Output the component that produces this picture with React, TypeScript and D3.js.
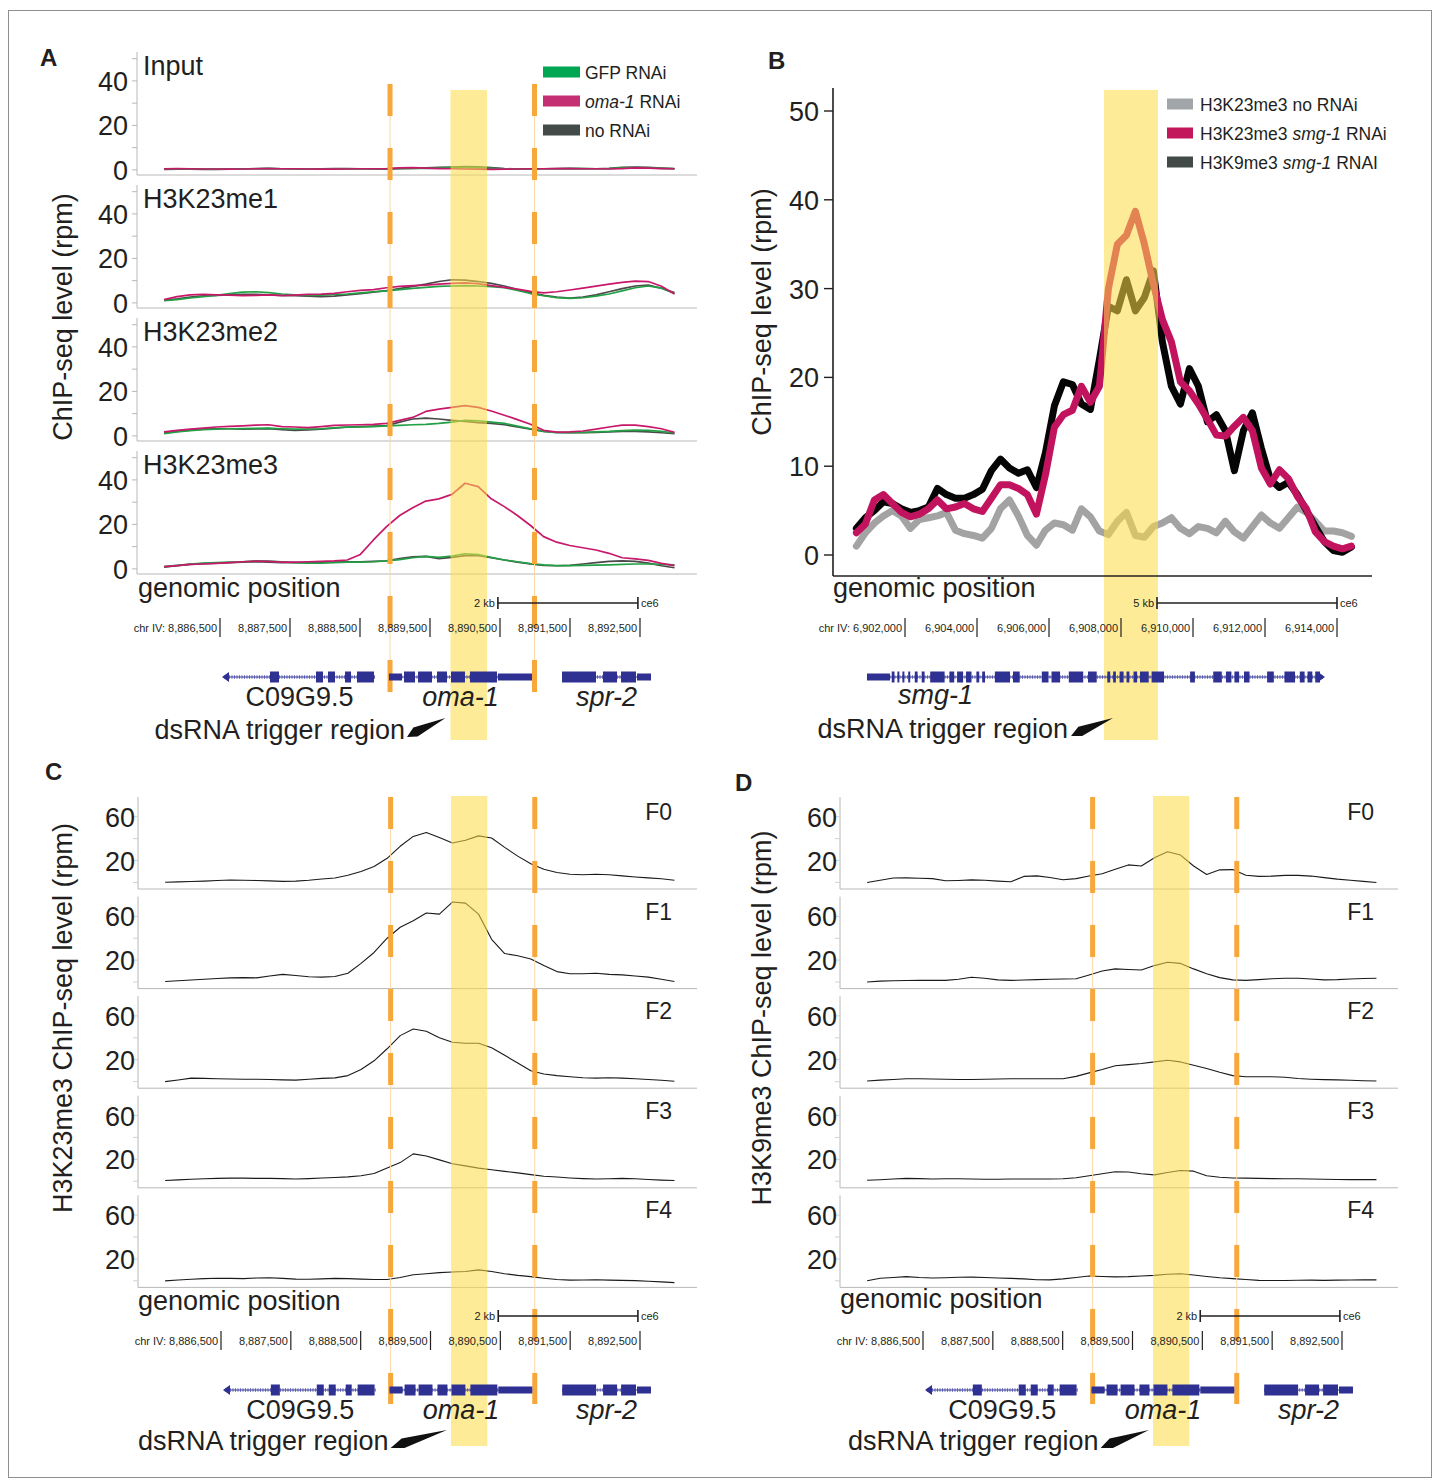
import { useEffect, useRef } from "react";
import * as d3 from "d3";

const FONT = "'Liberation Sans', Arial, Helvetica, sans-serif";
const INK = "#231f20";
const ORANGE = "#f8a73b";
const BAND = "#fbdc48";
const GENE = "#2e3192";
const AXIS_GRAY = "#b8b8b8";

// genomic grids of the coverage tracks
const omaStart = 8885700;
const omaStep = 187;
const smgStart = 6900650;
const smgStep = 250;

const omaTicks = [8886500, 8887500, 8888500, 8889500, 8890500, 8891500, 8892500];
const smgTicks = [6902000, 6904000, 6906000, 6908000, 6910000, 6912000, 6914000];
const omaDashes = [8888929, 8890993];
const omaTrigger = [8889793, 8890314];
const smgTrigger = [6907528, 6909028];

// gene models
const c09Span = [8886557, 8888714];
const c09Exons = [[8887214, 8887357], [8887871, 8887986], [8888043, 8888157], [8888286, 8888386], [8888457, 8888714]];
const omaSpan = [8888914, 8890957];
const omaExons = [[8889129, 8889300], [8889329, 8889543], [8889600, 8889757], [8889800, 8890014], [8890071, 8890471]];
const omaUtrs = [[8888914, 8889100], [8890471, 8890957]];
const sprSpan = [8891386, 8892657];
const sprExons = [[8891386, 8891886], [8891971, 8892186], [8892229, 8892457]];
const sprUtrs = [[8892457, 8892657]];
const smgSpan = [6900944, 6913611];
const smgUtrs = [[6900944, 6901583]];
const smgExons = [
  [6901631, 6901736], [6901789, 6901864], [6901928, 6902003], [6902089, 6902164], [6902272, 6902378],
  [6902464, 6902572], [6902700, 6903128], [6903233, 6903395], [6903447, 6903642], [6903695, 6903875],
  [6903983, 6904089], [6904145, 6904250], [6904497, 6904945], [6905000, 6905214], [6905800, 6906014],
  [6906070, 6906336], [6906550, 6906978], [6907084, 6907353], [6907620, 6907728], [6907781, 6907886],
  [6907961, 6908100], [6908153, 6908261], [6908347, 6908475], [6908528, 6908798], [6908850, 6909222],
  [6909920, 6910081], [6910562, 6910828], [6910915, 6911095], [6911151, 6911309], [6911417, 6911598],
  [6912059, 6912273], [6912540, 6912862], [6912967, 6913128], [6913181, 6913342], [6913395, 6913556],
];

// A: H3K23 methylation rows (rpm)
const aRows = ["Input", "H3K23me1", "H3K23me2", "H3K23me3"];
const aTicks = [0, 10, 20, 30, 40, 50];
const aLabels = [0, 20, 40];
const inputNo = [0.2,0.3,0.3,0.2,0.2,0.3,0.4,0.6,0.7,0.5,0.4,0.4,0.5,0.6,0.6,0.5,0.4,0.3,0.5,0.7,0.9,1.1,1.3,1.5,1.4,1.0,0.6,0.4,0.4,0.5,0.6,0.7,0.6,0.5,0.7,1.1,1.3,1.1,0.8,0.6];
const inputGfp = [0.5,0.5,0.4,0.4,0.3,0.4,0.5,0.5,0.6,0.5,0.4,0.4,0.4,0.5,0.5,0.4,0.4,0.5,0.7,0.8,0.7,0.8,1.0,1.1,1.0,0.7,0.5,0.4,0.4,0.5,0.5,0.6,0.6,0.5,0.6,0.9,1.0,0.9,0.7,0.5];
const inputOma = [0.5,0.6,0.5,0.4,0.4,0.3,0.4,0.5,0.6,0.5,0.5,0.4,0.3,0.3,0.4,0.5,0.5,0.6,0.9,1.0,0.8,0.6,0.5,0.4,0.3,0.2,0.3,0.4,0.5,0.5,0.6,0.6,0.5,0.5,0.4,0.6,0.9,0.8,0.6,0.5];
const me1No = [1.2,1.8,2.6,3.2,3.4,3.6,3.8,3.8,3.6,3.4,3.2,3.0,2.8,3.0,3.6,4.2,4.8,5.5,6.4,7.4,8.4,9.6,10.4,10.2,9.6,8.8,7.6,6.0,4.6,3.4,2.6,2.2,2.6,3.6,5.0,6.4,7.6,8.0,6.6,4.6];
const me1Gfp = [1.0,1.5,2.2,2.8,3.4,4.2,4.8,5.0,4.6,4.0,3.6,3.4,3.5,3.8,4.0,4.5,5.0,5.4,6.0,6.5,7.0,7.4,7.6,7.8,7.6,7.3,6.8,5.6,4.2,3.2,2.4,2.0,2.3,3.0,4.0,5.4,6.8,7.6,6.6,4.2];
const me1Oma = [1.5,2.8,3.6,3.8,3.6,3.5,3.3,3.4,3.6,3.3,3.5,3.8,3.9,4.3,5.0,5.6,6.0,6.8,7.4,7.8,8.0,8.4,8.8,9.0,8.6,7.8,7.0,6.2,5.2,4.5,5.0,5.8,6.6,7.5,8.4,9.2,9.8,9.6,7.5,4.0];
const me2No = [1.2,2.0,2.6,3.0,3.2,3.2,3.0,3.1,3.3,2.8,2.5,2.7,3.0,3.5,4.0,4.2,4.4,4.6,6.2,7.6,8.0,7.6,7.0,6.5,6.0,5.6,5.0,4.0,3.0,2.0,1.6,1.5,1.5,1.6,1.8,2.0,2.0,1.8,1.4,1.0];
const me2Gfp = [1.0,1.8,2.4,2.8,3.0,3.2,3.3,3.4,3.5,3.2,3.0,3.0,3.2,3.6,3.9,4.0,4.2,4.5,4.7,5.0,5.2,5.6,6.2,7.0,6.8,6.2,5.6,4.4,3.2,2.0,1.5,1.5,1.6,1.8,2.0,2.4,2.6,2.5,2.0,1.3];
const me2Oma = [1.8,2.5,3.0,3.5,4.0,4.3,4.5,4.8,5.0,4.2,4.0,3.7,4.2,4.7,4.9,5.0,5.2,5.6,7.0,8.3,11.0,12.0,12.8,13.6,12.8,11.2,9.3,7.3,5.2,2.5,1.7,1.8,2.2,3.0,4.0,4.8,4.8,4.2,3.2,1.6];
const me3No = [0.8,1.4,2.0,2.4,2.6,2.8,3.0,3.2,3.0,2.8,2.8,2.8,3.0,3.0,3.2,3.2,3.4,3.6,4.6,5.4,5.6,4.6,5.2,6.0,6.0,5.0,4.0,3.0,2.2,1.6,1.4,1.6,2.2,2.8,3.4,3.6,3.4,2.6,1.4,0.5];
const me3Gfp = [1.0,1.6,2.2,2.6,2.8,3.0,3.2,3.6,3.5,3.2,2.8,2.6,2.6,2.8,3.0,3.0,3.2,3.6,4.2,5.0,5.6,5.2,5.8,6.8,6.4,5.2,4.0,3.2,2.4,1.8,1.5,1.5,1.6,1.7,1.8,2.0,2.2,2.2,2.0,1.8];
const me3Oma = [1.0,1.5,2.0,2.2,2.5,2.8,3.2,3.5,3.4,3.0,3.0,3.2,3.4,3.6,4.0,6.5,13.0,19.0,24.0,27.5,30.5,31.5,33.5,38.5,37.0,31.5,28.0,24.0,19.5,14.5,12.0,10.5,9.5,8.5,7.0,5.0,4.5,3.8,2.5,1.5];

// B: smg-1 locus (rpm)
const bTicks = [0, 10, 20, 30, 40, 50];
const bNo = [1.0,2.5,3.6,4.4,5.0,4.4,3.0,4.0,4.2,4.4,4.8,2.8,2.4,2.2,1.9,3.0,5.2,6.2,4.4,2.2,1.1,2.8,3.6,3.4,2.8,5.2,4.3,2.7,2.3,3.8,4.8,2.2,2.0,3.2,3.6,4.2,3.0,2.4,3.2,3.0,2.5,3.8,2.6,1.9,3.2,4.5,3.6,3.0,4.2,5.4,4.8,3.8,2.7,2.7,2.5,2.1];
const bK9 = [3.0,4.2,5.0,6.0,5.8,5.2,4.8,5.0,5.4,7.5,6.8,6.4,6.4,6.8,7.4,9.5,10.8,9.8,9.2,9.6,7.6,11.5,16.8,19.5,19.2,17.0,16.4,22.0,28.0,27.5,31.0,27.5,29.0,32.0,24.0,19.0,17.0,21.0,19.0,15.0,15.8,14.0,9.5,14.0,16.0,12.0,8.5,7.6,8.2,6.8,5.0,3.2,1.5,0.5,0.3,0.9];
const bSmg = [2.5,3.5,6.2,6.8,5.8,4.8,4.3,4.6,5.2,6.2,5.2,5.4,5.8,5.2,4.9,6.4,7.9,7.9,7.5,6.8,4.6,9.0,14.4,15.8,16.3,19.0,17.2,19.0,30.0,35.0,36.0,38.7,35.0,30.5,26.5,24.0,19.5,18.5,17.0,15.3,13.5,13.4,14.5,15.5,14.0,9.8,8.0,9.6,8.6,6.6,5.2,2.6,1.5,1.0,0.7,1.0];

// C, D: generations F0-F4 (rpm)
const gens = ["F0", "F1", "F2", "F3", "F4"];
const genTicks = [0, 20, 40, 60];
const genLabels = [20, 60];
const cF0 = [0.2,0.5,0.8,1.2,1.8,2.2,2.0,1.8,1.4,1.0,1.2,2.0,3.2,4.0,6.5,10.0,14.5,22.0,33.0,42.0,45.5,41.0,36.0,38.5,42.5,40.5,32.0,24.0,17.0,12.0,9.0,7.5,7.0,7.5,7.0,6.0,5.0,4.2,3.4,2.0];
const cF1 = [0.5,1.2,1.8,2.5,3.2,3.8,4.0,3.8,5.5,7.0,6.0,4.8,4.5,5.0,8.0,17.0,27.0,40.0,50.0,56.0,63.0,62.0,73.0,72.0,62.0,39.0,26.0,24.0,21.0,15.0,9.5,7.5,7.5,8.0,7.0,6.5,5.5,4.5,2.5,0.5];
const cF2 = [0.0,1.5,3.2,3.0,2.6,2.4,2.2,2.2,2.0,1.6,1.4,2.2,3.0,3.4,5.5,11.0,19.0,30.0,42.0,48.0,46.0,40.0,36.0,35.0,35.0,31.0,24.0,17.0,10.0,7.0,5.5,4.5,3.5,3.2,3.6,3.2,2.6,2.0,1.2,0.4];
const cF3 = [0.7,1.2,1.8,2.2,2.6,2.8,2.8,2.6,2.6,2.4,2.0,2.4,3.0,3.4,4.0,5.0,7.0,12.0,17.0,25.0,23.0,19.5,16.0,14.0,12.0,10.5,9.0,7.6,6.0,4.6,3.8,3.0,2.4,2.0,2.2,2.6,2.2,1.6,1.0,0.6];
const cF4 = [0.0,0.8,1.4,2.0,2.4,2.2,2.0,2.6,2.8,2.2,1.6,1.4,1.8,2.2,2.0,1.6,1.2,1.2,3.0,5.5,6.5,7.5,8.0,8.5,10.0,8.5,6.5,5.0,3.8,2.4,1.2,0.6,0.8,1.0,0.6,0.4,0.2,-0.4,-1.0,-1.6];
const dF0 = [0.0,2.0,4.0,4.2,3.8,3.5,1.5,1.8,2.3,2.0,1.2,0.6,5.5,6.0,4.5,2.5,3.5,5.8,8.0,12.0,16.0,15.0,22.5,28.0,25.0,15.0,7.3,11.5,11.7,6.5,5.5,5.8,6.4,6.4,5.8,4.4,3.0,2.0,1.0,0.0];
const dF1 = [0.0,0.8,1.2,1.4,1.5,1.5,1.5,2.5,4.4,3.5,2.0,1.5,1.8,2.2,2.5,2.8,3.0,6.5,10.0,12.0,11.5,11.0,15.0,18.0,17.0,12.0,7.5,4.0,2.0,1.5,2.2,3.0,3.5,3.4,2.8,2.0,2.2,2.8,3.2,3.5];
const dF2 = [0.6,1.4,2.0,2.6,2.6,2.4,2.2,2.0,2.0,2.2,2.4,2.6,2.6,2.6,2.6,2.6,4.8,8.0,11.0,14.5,15.5,16.5,18.0,19.5,18.0,15.0,12.0,8.5,5.5,4.4,4.4,4.4,4.0,2.8,2.2,1.8,1.6,1.2,0.8,0.6];
const dF3 = [0.9,1.4,2.0,2.6,2.4,2.0,2.2,2.2,2.0,1.8,1.8,2.0,2.0,2.0,2.0,2.2,3.2,5.0,6.8,8.6,8.4,6.8,5.8,8.0,9.8,9.2,5.0,3.6,3.0,2.8,2.6,2.4,2.2,2.2,2.0,1.8,1.6,1.5,1.5,1.5];
const dF4 = [0.0,2.3,3.0,3.8,3.0,2.6,2.8,3.2,3.4,3.0,2.6,2.2,1.8,1.0,0.9,1.8,3.0,4.4,4.0,3.6,3.8,4.4,5.0,6.0,6.5,5.3,4.0,2.8,2.0,1.2,0.4,0.3,0.3,0.5,0.6,0.4,0.6,0.8,0.9,0.9];

function txt(g: any, x: number, y: number, s: string, size: number, o: any = {}) {
  return g.append("text")
    .attr("x", x).attr("y", y)
    .attr("font-family", FONT).attr("font-size", size)
    .attr("fill", o.fill || INK)
    .attr("text-anchor", o.anchor || "start")
    .attr("font-weight", o.bold ? "bold" : null)
    .attr("font-style", o.italic ? "italic" : null)
    .text(s);
}

function vlabel(g: any, x: number, y: number, s: string) {
  g.append("text")
    .attr("transform", `translate(${x},${y}) rotate(-90)`)
    .attr("font-family", FONT).attr("font-size", 27).attr("fill", INK)
    .attr("text-anchor", "middle").attr("dominant-baseline", "central")
    .text(s);
}

function dashes(g: any, x: any, pos: number[], y0: number, y1: number) {
  pos.forEach((p) => {
    g.append("line").attr("x1", x(p)).attr("x2", x(p)).attr("y1", y0).attr("y2", y1)
      .attr("stroke", "#fcd8a6").attr("stroke-width", 1);
    g.append("line").attr("x1", x(p)).attr("x2", x(p)).attr("y1", y0).attr("y2", y1)
      .attr("stroke", ORANGE).attr("stroke-width", 5).attr("stroke-dasharray", "32 32");
  });
}

function band(g: any, x: any, span: number[], y0: number, y1: number) {
  g.append("rect").attr("x", x(span[0])).attr("width", x(span[1]) - x(span[0]))
    .attr("y", y0).attr("height", y1 - y0)
    .attr("fill", BAND).attr("fill-opacity", 0.56);
}

function genomeAxis(g: any, x: any, ticks: number[], yLab: number, barStart: number, barLen: number, barText: string) {
  const fmt = d3.format(",");
  ticks.forEach((t, i) => {
    g.append("line").attr("x1", x(t)).attr("x2", x(t)).attr("y1", yLab - 14).attr("y2", yLab + 5)
      .attr("stroke", INK).attr("stroke-width", 1.2);
    txt(g, x(t) - 3, yLab, (i === 0 ? "chr IV: " : "") + fmt(t), 11, { anchor: "end" });
  });
  const yb = yLab - 29;
  const b0 = x(barStart), b1 = x(barStart + barLen);
  g.append("line").attr("x1", b0).attr("x2", b1).attr("y1", yb).attr("y2", yb).attr("stroke", INK).attr("stroke-width", 1.6);
  [b0, b1].forEach((bx) => g.append("line").attr("x1", bx).attr("x2", bx).attr("y1", yb - 6).attr("y2", yb + 6).attr("stroke", INK).attr("stroke-width", 1.6));
  txt(g, b0 - 3, yb + 4, barText, 11, { anchor: "end" });
  txt(g, b1 + 3, yb + 4, "ce6", 11);
}

// strand: -1 arrow at the start, 1 arrow at the end, 0 no arrow
function gene(g: any, x: any, yc: number, span: number[], exons: number[][], utrs: number[][], strand: number) {
  g.append("line").attr("x1", x(span[0])).attr("x2", x(span[1])).attr("y1", yc).attr("y2", yc)
    .attr("stroke", "#8588c8").attr("stroke-width", 4).attr("stroke-dasharray", "1 1.5");
  g.append("line").attr("x1", x(span[0])).attr("x2", x(span[1])).attr("y1", yc).attr("y2", yc)
    .attr("stroke", GENE).attr("stroke-width", 1.2);
  g.selectAll(null).data(utrs).join("rect")
    .attr("x", (d: number[]) => x(d[0])).attr("width", (d: number[]) => x(d[1]) - x(d[0]))
    .attr("y", yc - 3.5).attr("height", 7).attr("fill", GENE);
  g.selectAll(null).data(exons).join("rect")
    .attr("x", (d: number[]) => x(d[0])).attr("width", (d: number[]) => Math.max(2, x(d[1]) - x(d[0]) - 1))
    .attr("y", yc - 5.5).attr("height", 11).attr("fill", GENE);
  if (strand !== 0) {
    const ax = strand < 0 ? x(span[0]) : x(span[1]);
    const dir = strand < 0 ? -1 : 1;
    g.append("path").attr("d", `M${ax + dir * 2},${yc} L${ax - dir * 5},${yc - 5} L${ax - dir * 5},${yc + 5} Z`).attr("fill", GENE);
  }
}

function wedge(g: any, x0: number, y0: number, x1: number, y1: number) {
  const dx = x1 - x0, dy = y1 - y0, len = Math.hypot(dx, dy);
  const px = -dy / len * 5, py = dx / len * 5;
  g.append("path")
    .attr("d", `M${x0},${y0 + 1} L${x0 + dx * 0.22 + px},${y0 + dy * 0.22 + py} L${x1},${y1} L${x0 + dx * 0.22 - px},${y0 + dy * 0.22 - py} Z`)
    .attr("fill", "#111");
}

function legendItem(g: any, x: number, y: number, w: number, color: string, parts: [string, boolean][], tx: number) {
  g.append("rect").attr("x", x).attr("y", y - 5.5).attr("width", w).attr("height", 11).attr("fill", color);
  const t = txt(g, tx, y + 6.5, "", 17.5);
  parts.forEach(([s, it]) => t.append("tspan").attr("font-style", it ? "italic" : null).text(s));
}

function drawAll(svg: any) {
  const root = svg.append("g");
  root.append("rect").attr("x", 8.5).attr("y", 10.5).attr("width", 1423).attr("height", 1467)
    .attr("fill", "none").attr("stroke", "#8f8f8f").attr("stroke-width", 1);

  // ---------- Panel A ----------
  const xA = d3.scaleLinear().domain([8886500, 8892500]).range([220, 640]);
  const lineA = (y: any) => d3.line<number>().x((_, i) => xA(omaStart + i * omaStep)).y((d) => y(d));
  const aSeries = [
    [inputNo, inputGfp, inputOma],
    [me1No, me1Gfp, me1Oma],
    [me2No, me2Gfp, me2Oma],
    [me3No, me3Gfp, me3Oma],
  ];
  const aColors = ["#4a4a4a", "#22a045", "#c8186a"];
  const A = root.append("g");
  txt(A, 40, 66, "A", 24, { bold: true });
  vlabel(A, 63, 317, "ChIP-seq level (rpm)");
  aRows.forEach((name, r) => {
    const top = 52 + r * 133, bottom = top + 123;
    const y = d3.scaleLinear().domain([-2.3, 53]).range([bottom, top]);
    A.append("line").attr("x1", 137).attr("x2", 137).attr("y1", top).attr("y2", bottom).attr("stroke", AXIS_GRAY);
    A.append("line").attr("x1", 137).attr("x2", 697).attr("y1", bottom).attr("y2", bottom).attr("stroke", AXIS_GRAY);
    aTicks.forEach((t) => A.append("line").attr("x1", 132).attr("x2", 137).attr("y1", y(t)).attr("y2", y(t)).attr("stroke", AXIS_GRAY));
    aLabels.forEach((t) => txt(A, 128, y(t) + 10, String(t), 27, { anchor: "end" }));
    txt(A, 143, top + 23, name, 27);
    aSeries[r].forEach((s, k) => {
      A.append("path").datum(s).attr("d", lineA(y)).attr("fill", "none")
        .attr("stroke", aColors[k]).attr("stroke-width", 1.7).attr("stroke-linejoin", "round");
    });
  });
  band(A, xA, omaTrigger, 90, 740);
  dashes(A, xA, omaDashes, 84, 692);
  legendItem(A, 543, 72, 37, "#00a651", [["GFP RNAi", false]], 585);
  legendItem(A, 543, 101, 37, "#c42f73", [["oma-1", true], [" RNAi", false]], 585);
  legendItem(A, 543, 130, 37, "#434b49", [["no RNAi", false]], 585);
  txt(A, 138, 597, "genomic position", 27);
  genomeAxis(A, xA, omaTicks, 632, 8890470, 2000, "2 kb");
  gene(A, xA, 677, c09Span, c09Exons, [], -1);
  gene(A, xA, 677, omaSpan, omaExons, omaUtrs, 0);
  gene(A, xA, 677, sprSpan, sprExons, sprUtrs, 0);
  txt(A, xA((c09Span[0] + c09Span[1]) / 2), 706, "C09G9.5", 27, { anchor: "middle" });
  txt(A, xA((omaSpan[0] + omaSpan[1]) / 2), 706, "oma-1", 27, { anchor: "middle", italic: true });
  txt(A, xA((sprSpan[0] + sprSpan[1]) / 2), 706, "spr-2", 27, { anchor: "middle", italic: true });
  txt(A, 405, 739, "dsRNA trigger region", 27, { anchor: "end" });
  wedge(A, 407, 736, xA(omaTrigger[0]) - 5, 718);

  // ---------- Panel B ----------
  const xB = d3.scaleLinear().domain([6902000, 6914000]).range([905, 1337]);
  const yB = d3.scaleLinear().domain([0, 50]).range([555, 111]);
  const lineB = d3.line<number>().x((_, i) => xB(smgStart + i * smgStep)).y((d) => yB(d));
  const B = root.append("g");
  txt(B, 768, 69, "B", 24, { bold: true });
  vlabel(B, 762, 312, "ChIP-seq level (rpm)");
  [[bNo, "#a3a3a3"], [bK9, "#050505"], [bSmg, "#c2135f"]].forEach(([s, c]: any) => {
    B.append("path").datum(s).attr("d", lineB).attr("fill", "none").attr("stroke", c)
      .attr("stroke-width", 7).attr("stroke-linejoin", "round").attr("stroke-linecap", "round");
  });
  band(B, xB, smgTrigger, 90, 740);
  B.append("line").attr("x1", 833).attr("x2", 833).attr("y1", 88).attr("y2", 576).attr("stroke", INK).attr("stroke-width", 1.6);
  B.append("line").attr("x1", 833).attr("x2", 1372).attr("y1", 576).attr("y2", 576).attr("stroke", INK).attr("stroke-width", 1.6);
  bTicks.forEach((t) => {
    B.append("line").attr("x1", 824).attr("x2", 833).attr("y1", yB(t)).attr("y2", yB(t)).attr("stroke", INK).attr("stroke-width", 1.4);
    txt(B, 819, yB(t) + 10, String(t), 27, { anchor: "end" });
  });
  legendItem(B, 1167, 104, 26, "#a2a6aa", [["H3K23me3 no RNAi", false]], 1200);
  legendItem(B, 1167, 133, 26, "#c2185b", [["H3K23me3 ", false], ["smg-1", true], [" RNAi", false]], 1200);
  legendItem(B, 1167, 162, 26, "#424a48", [["H3K9me3 ", false], ["smg-1", true], [" RNAI", false]], 1200);
  txt(B, 833, 597, "genomic position", 27);
  genomeAxis(B, xB, smgTicks, 632, 6909000, 5000, "5 kb");
  gene(B, xB, 677, smgSpan, smgExons, smgUtrs, 1);
  txt(B, 898, 704, "smg-1", 27, { italic: true });
  txt(B, 1068, 738, "dsRNA trigger region", 27, { anchor: "end" });
  wedge(B, 1071, 735, xB(smgTrigger[0]) + 9, 718);

  // ---------- Panels C and D ----------
  const stack = (letter: string, lx: number, ly: number, xs: any, axisX: number, right: number, fx: number,
    series: number[][], ylab: string, ylx: number, textStart: number, gpY: number) => {
    const G = root.append("g");
    txt(G, lx, ly, letter, 24, { bold: true });
    vlabel(G, ylx, 1018, ylab);
    const ln = (y: any) => d3.line<number>().x((_, i) => xs(omaStart + i * omaStep)).y((d) => y(d));
    gens.forEach((name, r) => {
      const top = 797 + r * 99.6, bottom = top + 92;
      const y = d3.scaleLinear().domain([-6, 78]).range([bottom, top]);
      G.append("line").attr("x1", axisX).attr("x2", axisX).attr("y1", top).attr("y2", bottom).attr("stroke", AXIS_GRAY);
      G.append("line").attr("x1", axisX).attr("x2", right).attr("y1", bottom).attr("y2", bottom).attr("stroke", AXIS_GRAY);
      genTicks.forEach((t) => G.append("line").attr("x1", axisX - 5).attr("x2", axisX).attr("y1", y(t)).attr("y2", y(t)).attr("stroke", "#d0d0d0"));
      genLabels.forEach((t) => txt(G, axisX - 3, y(t) + 10, String(t), 27, { anchor: "end" }));
      txt(G, fx, top + 23, name, 23, { anchor: "end" });
      G.append("path").datum(series[r]).attr("d", ln(y)).attr("fill", "none")
        .attr("stroke", "#1a1a1a").attr("stroke-width", 1.1).attr("stroke-linejoin", "round");
    });
    band(G, xs, omaTrigger, 796, 1446);
    dashes(G, xs, omaDashes, 797, 1404);
    txt(G, axisX, gpY, "genomic position", 27);
    genomeAxis(G, xs, omaTicks, 1345, 8890470, 2000, "2 kb");
    gene(G, xs, 1390, c09Span, c09Exons, [], -1);
    gene(G, xs, 1390, omaSpan, omaExons, omaUtrs, 0);
    gene(G, xs, 1390, sprSpan, sprExons, sprUtrs, 0);
    txt(G, xs((c09Span[0] + c09Span[1]) / 2), 1419, "C09G9.5", 27, { anchor: "middle" });
    txt(G, xs((omaSpan[0] + omaSpan[1]) / 2), 1419, "oma-1", 27, { anchor: "middle", italic: true });
    txt(G, xs((sprSpan[0] + sprSpan[1]) / 2), 1419, "spr-2", 27, { anchor: "middle", italic: true });
    const t = txt(G, textStart, 1450, "dsRNA trigger region", 27);
    const tw = (t.node() as SVGTextElement).getComputedTextLength();
    wedge(G, textStart + tw + 2, 1447, xs(omaTrigger[0]) - 4, 1430);
  };

  const xC = d3.scaleLinear().domain([8886500, 8892500]).range([221, 640]);
  stack("C", 45, 780, xC, 138, 697, 672, [cF0, cF1, cF2, cF3, cF4], "H3K23me3 ChIP-seq level (rpm)", 63, 138, 1310);
  const xD = d3.scaleLinear().domain([8886500, 8892500]).range([923, 1342]);
  stack("D", 735, 791, xD, 840, 1398, 1374, [dF0, dF1, dF2, dF3, dF4], "H3K9me3 ChIP-seq level (rpm)", 762, 848, 1308);
}

export default function App() {
  const ref = useRef<SVGSVGElement>(null);
  useEffect(() => {
    const svg = d3.select(ref.current);
    svg.selectAll("*").remove();
    drawAll(svg);
  }, []);
  return (
    <div style={{ position: "absolute", left: 0, top: 0 }}>
      <svg ref={ref} width={1437} height={1484} style={{ display: "block", background: "#fff" }} />
    </div>
  );
}
